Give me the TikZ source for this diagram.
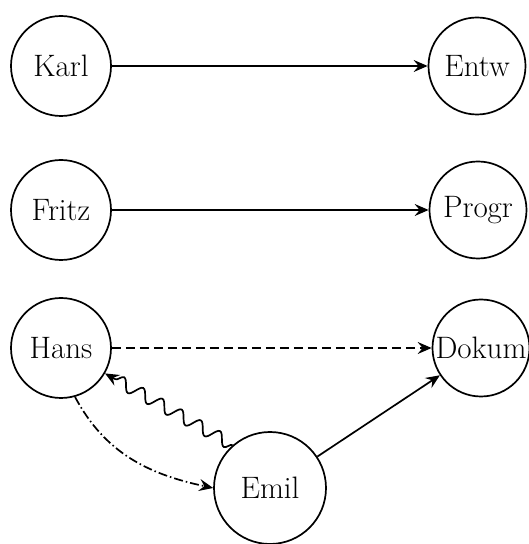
\documentclass[tikz,border=0pt]{standalone}
\usetikzlibrary{arrows.meta,decorations.pathmorphing}
\begin{document}
\begin{tikzpicture}[x=1pt,y=1pt,
  person/.style={draw,circle,line width=1.7pt,inner sep=0pt,minimum size=100pt,
    font=\fontsize{31}{35}\selectfont},
  link/.style={line width=1.7pt,-{Stealth[length=14pt,width=12pt,inset=5pt]}},
  dashlink/.style={link,dash pattern=on 9pt off 5pt},
  dotlink/.style={link,dash pattern=on 9pt off 3pt on 1.5pt off 3pt},
  wavelink/.style={link,decorate,decoration={snake,amplitude=6pt,segment length=22pt,post length=9pt,pre length=0pt}}]
\useasboundingbox (0,0) rectangle (528,544);
% people on the left
\node[person] (karl)  at (61,478) {Karl};
\node[person] (fritz) at (61,334) {Fritz};
\node[person] (hans)  at (61,196) {Hans};
% tasks on the right
\node[person,minimum size=97pt] (entw)  at (477,478) {Entw};
\node[person,minimum size=97pt] (progr) at (478,334) {Progr};
\node[person,minimum size=97pt] (dokum) at (481,196) {Dokum};
% helper at the bottom
\node[person,minimum size=112pt] (emil) at (270,56) {Emil};
% assignments
\draw[link] (karl) -- (entw);
\draw[link] (fritz) -- (progr);
\draw[dashlink] (hans) -- (dokum);
\draw[link] (emil) -- (dokum);
\draw[dotlink] (hans.-74) to[out=-62,in=168] (emil.west);
\draw[wavelink] (emil.131) -- (hans.-30);
\end{tikzpicture}
\end{document}
